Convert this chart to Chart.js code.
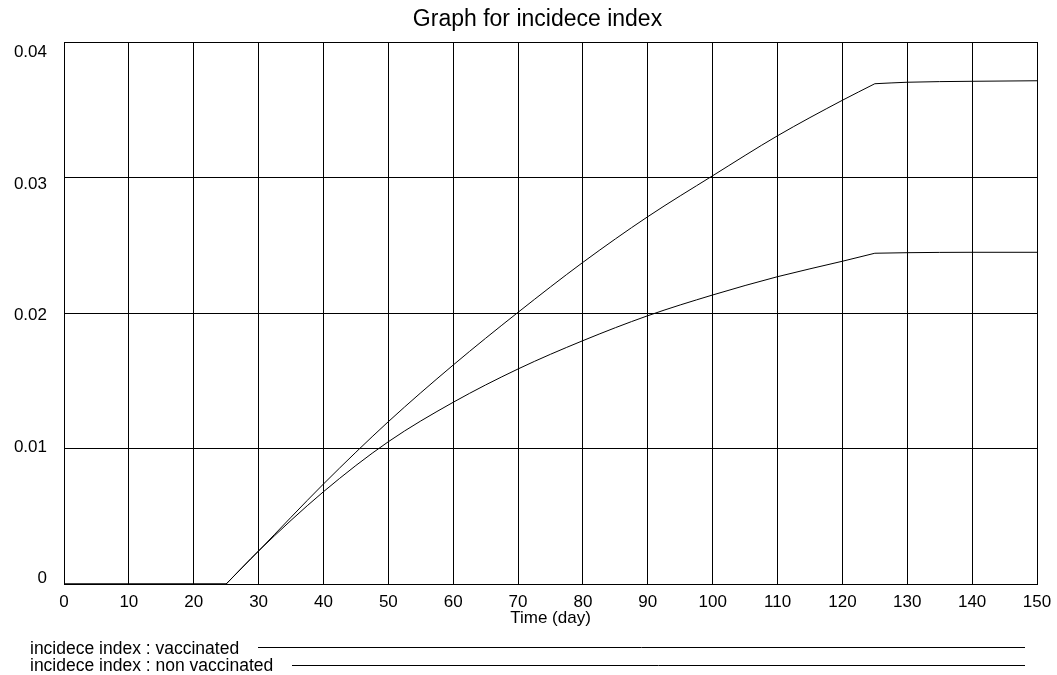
<!DOCTYPE html>
<html><head><meta charset="utf-8">
<script src="https://cdn.jsdelivr.net/npm/chart.js@4"></script>
<style>html,body{margin:0;padding:0;background:#fff}canvas{display:block}</style>
</head><body>
<canvas id="c" width="1057" height="675"></canvas>
<script>
const days          = [0, 10, 20, 25, 30, 40, 50, 60, 70, 80, 90, 100, 110, 120, 125, 130, 140, 150];
const vaccinated    = [0, 0, 0, 0, 0.00244, 0.00681, 0.0105, 0.01341, 0.01587, 0.01796, 0.0198, 0.02133, 0.02268, 0.02382, 0.02441, 0.02445, 0.02448, 0.02448];
const nonVaccinated = [0, 0, 0, 0, 0.00244, 0.00738, 0.01198, 0.01616, 0.02005, 0.02374, 0.02711, 0.03013, 0.03308, 0.0357, 0.03692, 0.03703, 0.0371, 0.03714];
const seriesLabels  = ['incidece index : vaccinated', 'incidece index : non vaccinated'];
const breakDays     = [25, 125];   // days where the curves have a sharp corner
const yTickLabels   = ['0', '0.01', '0.02', '0.03', '0.04'];
const chartTitle    = 'Graph for incidece index';
const xTitle        = 'Time (day)';

const FAMILY = "'Liberation Sans', Arial, sans-serif";
const FS = 17;
const LEGEND_FS = 17.5;

const yLabelPlugin = {
  id: 'yLabels',
  afterDraw(chart) {
    const ctx = chart.ctx, y = chart.scales.y;
    ctx.save();
    ctx.font = FS + 'px ' + FAMILY;
    ctx.fillStyle = '#000';
    ctx.textAlign = 'right';
    ctx.textBaseline = 'middle';
    const top = y.top, h = y.height;
    y.ticks.forEach((t) => {
      const idx = Math.round(t.value * 100);
      const p = y.getPixelForValue(t.value);
      const ly = top + 10.5 + (p - top) * (h - 16) / h;
      ctx.fillText(yTickLabels[idx], 47, ly);
    });
    ctx.restore();
  }
};

const legendPlugin = {
  id: 'lineLegend',
  afterDraw(chart) {
    const ctx = chart.ctx;
    ctx.save();
    ctx.font = LEGEND_FS + 'px ' + FAMILY;
    ctx.fillStyle = '#000';
    ctx.strokeStyle = '#000';
    ctx.lineWidth = 1;
    ctx.textAlign = 'left';
    ctx.textBaseline = 'middle';
    seriesLabels.forEach((label, i) => {
      const ty = 649.5 + i * 17;
      ctx.fillText(label, 30, ty);
      const w = ctx.measureText(label).width;
      const ly = 647.5 + i * 18;
      ctx.beginPath();
      ctx.moveTo(Math.round(30 + w + 19), ly);
      ctx.lineTo(1025, ly);
      ctx.stroke();
    });
    ctx.restore();
  }
};

// split a series at the corner days so the smoothing keeps the corners sharp
function pieces(arr, label) {
  const cuts = [0, ...breakDays.map(d => days.indexOf(d)), days.length - 1];
  const out = [];
  for (let k = 0; k < cuts.length - 1; k++) {
    const pts = [];
    for (let i = cuts[k]; i <= cuts[k + 1]; i++) pts.push({x: days[i], y: arr[i]});
    out.push({label: label, data: pts, borderColor: '#000', borderWidth: 1, pointRadius: 0,
              fill: false, cubicInterpolationMode: 'monotone'});
  }
  return out;
}

new Chart(document.getElementById('c'), {
  type: 'line',
  data: {
    datasets: [...pieces(vaccinated, seriesLabels[0]), ...pieces(nonVaccinated, seriesLabels[1])]
  },
  options: {
    responsive: false,
    animation: false,
    layout: {padding: {left: 38, right: 20, top: 0, bottom: 0}},
    plugins: {
      legend: {display: false},
      tooltip: {enabled: false},
      title: {
        display: true, text: chartTitle, color: '#000',
        font: {size: 23, family: FAMILY, weight: 'normal'},
        padding: {top: 6, bottom: 8.4}
      }
    },
    scales: {
      x: {
        type: 'linear', min: 0, max: 150,
        ticks: {stepSize: 10, color: '#000', font: {size: FS, family: FAMILY}, padding: 8, maxRotation: 0, autoSkip: false},
        grid: {color: '#000', lineWidth: 1, drawTicks: false},
        border: {color: '#000'},
        title: {display: true, text: xTitle, color: '#000', font: {size: FS, family: FAMILY}, padding: {top: 0, bottom: 46.8}},
        afterFit(s) { s.height = 91; s.paddingLeft = 0; s.paddingRight = 0; }
      },
      y: {
        type: 'linear', min: 0, max: 0.04,
        ticks: {stepSize: 0.01, display: false},
        grid: {color: '#000', lineWidth: 1, drawTicks: false},
        border: {color: '#000'},
        afterFit(s) { s.width = 26; }
      }
    }
  },
  plugins: [yLabelPlugin, legendPlugin]
});
</script>
</body></html>
